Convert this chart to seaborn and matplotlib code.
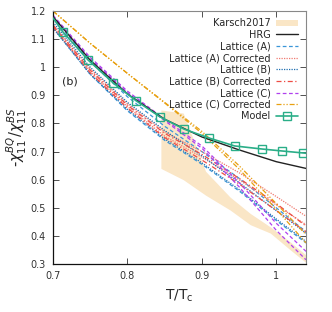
import numpy as np
import pandas as pd
import seaborn as sns
from matplotlib import pyplot as plt
from matplotlib.lines import Line2D
from matplotlib.patches import Patch
from matplotlib.ticker import FixedLocator, FuncFormatter

# temperature grid for the lattice / HRG curves
T = [0.70, 0.75, 0.80, 0.85, 0.90, 0.95, 1.00, 1.04]

hrg = [1.18, 1.025, 0.905, 0.815, 0.752, 0.706, 0.664, 0.640]

lat_a_hi = [1.175, 1.02, 0.895, 0.79, 0.70, 0.605, 0.50, 0.415]
lat_a_lo = [1.14, 0.975, 0.845, 0.74, 0.655, 0.56, 0.455, 0.375]
lat_a_corr_hi = [1.15, 0.995, 0.87, 0.77, 0.70, 0.625, 0.54, 0.47]
lat_a_corr_lo = [1.14, 0.985, 0.86, 0.755, 0.68, 0.60, 0.51, 0.44]
lat_b_hi = [1.16, 1.00, 0.875, 0.775, 0.685, 0.59, 0.49, 0.41]
lat_b_lo = [1.14, 0.975, 0.85, 0.745, 0.66, 0.565, 0.46, 0.38]
lat_b_corr_hi = [1.15, 0.99, 0.865, 0.765, 0.69, 0.605, 0.515, 0.435]
lat_b_corr_lo = [1.145, 0.98, 0.855, 0.75, 0.67, 0.585, 0.49, 0.415]
lat_c_hi = [1.185, 1.035, 0.915, 0.815, 0.720, 0.590, 0.445, 0.345]
lat_c_lo = [1.18, 1.03, 0.91, 0.81, 0.712, 0.575, 0.42, 0.315]
lat_c_corr_hi = [1.20, 1.085, 0.978, 0.875, 0.772, 0.650, 0.515, 0.405]
lat_c_corr_lo = [1.20, 1.085, 0.978, 0.873, 0.765, 0.638, 0.495, 0.375]

# Karsch2017 band
T_k = [0.845, 0.875, 0.905, 0.938, 0.965, 0.992, 1.019, 1.04]
k_hi = [0.848, 0.837, 0.63, 0.538, 0.48, 0.432, 0.378, 0.332]
k_lo = [0.64, 0.60, 0.545, 0.492, 0.44, 0.41, 0.35, 0.305]

# model (first and last points carry no marker)
T_m = [0.700, 0.7135, 0.747, 0.781, 0.812, 0.844, 0.876, 0.910, 0.944, 0.981, 1.008, 1.036, 1.04]
model = [1.175, 1.125, 1.026, 0.944, 0.880, 0.823, 0.780, 0.748, 0.720, 0.709, 0.702, 0.695, 0.694]

sns.set_theme(style="ticks")
plt.rcParams['font.family'] = ['DejaVu Sans']

fig = plt.figure(figsize=(3.32, 3.12), dpi=100)
ax = fig.add_axes([53 / 332, 48 / 312, 253 / 332, 253 / 312])

ax.fill_between(T_k, k_lo, k_hi, color='#fae6c6', lw=0, zorder=1)

styles = {
    'HRG': dict(color='#222222', ls='-', lw=1.0),
    'Lattice (A)': dict(color='#3a96d8', ls=(0, (3, 2)), lw=0.9),
    'Lattice (A) Corrected': dict(color='#f07a70', ls=(0, (1, 1)), lw=0.9),
    'Lattice (B)': dict(color='#1f6fb0', ls=(0, (1, 1)), lw=0.9),
    'Lattice (B) Corrected': dict(color='#ee4c44', ls=(0, (4, 2, 1, 2)), lw=0.9),
    'Lattice (C)': dict(color='#b040ee', ls=(0, (3, 2)), lw=0.9),
    'Lattice (C) Corrected': dict(color='#e8a010', ls=(0, (4, 1.5, 1, 1.5, 1, 1.5)), lw=0.9),
}

lines = {
    'Lattice (A)': [lat_a_hi, lat_a_lo],
    'Lattice (A) Corrected': [lat_a_corr_hi, lat_a_corr_lo],
    'Lattice (B)': [lat_b_hi, lat_b_lo],
    'Lattice (B) Corrected': [lat_b_corr_hi, lat_b_corr_lo],
    'Lattice (C)': [lat_c_hi, lat_c_lo],
    'Lattice (C) Corrected': [lat_c_corr_hi, lat_c_corr_lo],
    'HRG': [hrg],
}

for name, curves in lines.items():
    st = styles[name]
    for c in curves:
        sns.lineplot(x=T, y=c, ax=ax, color=st['color'], linestyle=st['ls'],
                     linewidth=st['lw'], zorder=3 if name == 'HRG' else 2)

green = '#2aae88'
sns.lineplot(x=T_m, y=model, ax=ax, color=green, linewidth=1.2, zorder=4,
             marker='s', markersize=5.5, markerfacecolor='none',
             markeredgecolor=green, markeredgewidth=1.0,
             markevery=list(range(1, len(T_m) - 1)))

ax.set_xlim(0.7, 1.04)
ax.set_ylim(0.3, 1.2)
ax.xaxis.set_major_locator(FixedLocator([0.7, 0.8, 0.9, 1.0]))
ax.yaxis.set_major_locator(FixedLocator(np.round(np.arange(0.3, 1.21, 0.1), 1)))
fmt = FuncFormatter(lambda v, p: '%g' % round(v, 2))
ax.xaxis.set_major_formatter(fmt)
ax.yaxis.set_major_formatter(fmt)
ax.tick_params(direction='in', length=4, width=0.6, labelsize=7, colors='#333333',
               top=True, right=True, pad=5)
for s in ['left', 'bottom']:
    ax.spines[s].set_color('#111111')
    ax.spines[s].set_linewidth(0.9)
for s in ['top', 'right']:
    ax.spines[s].set_color('#888888')
    ax.spines[s].set_linewidth(0.8)

ax.set_xlabel(r'T/T$_\mathrm{c}$', fontsize=10, labelpad=5)
ax.set_ylabel(r'-$\chi_{11}^{BQ}/\chi_{11}^{BS}$', fontsize=10.5, labelpad=1)
ax.text(0.712, 0.95, '(b)', fontsize=8, va='center', color='#222222')

handles = [Patch(facecolor='#fae6c6', edgecolor='none')]
labels = ['Karsch2017']
for name in ['HRG', 'Lattice (A)', 'Lattice (A) Corrected', 'Lattice (B)',
             'Lattice (B) Corrected', 'Lattice (C)', 'Lattice (C) Corrected']:
    st = styles[name]
    handles.append(Line2D([], [], color=st['color'], ls=st['ls'], lw=st['lw']))
    labels.append(name)
handles.append(Line2D([], [], color=green, lw=1.2, marker='s', markersize=5.5,
                      markerfacecolor='none', markeredgecolor=green))
labels.append('Model')

ax.legend(handles, labels, loc='upper right', bbox_to_anchor=(0.99, 0.995),
          frameon=False, markerfirst=False, fontsize=7, handlelength=2.2,
          handleheight=0.6, handletextpad=0.6, labelspacing=0.17,
          borderaxespad=0.2)

fig.savefig('out.png', dpi=100)
